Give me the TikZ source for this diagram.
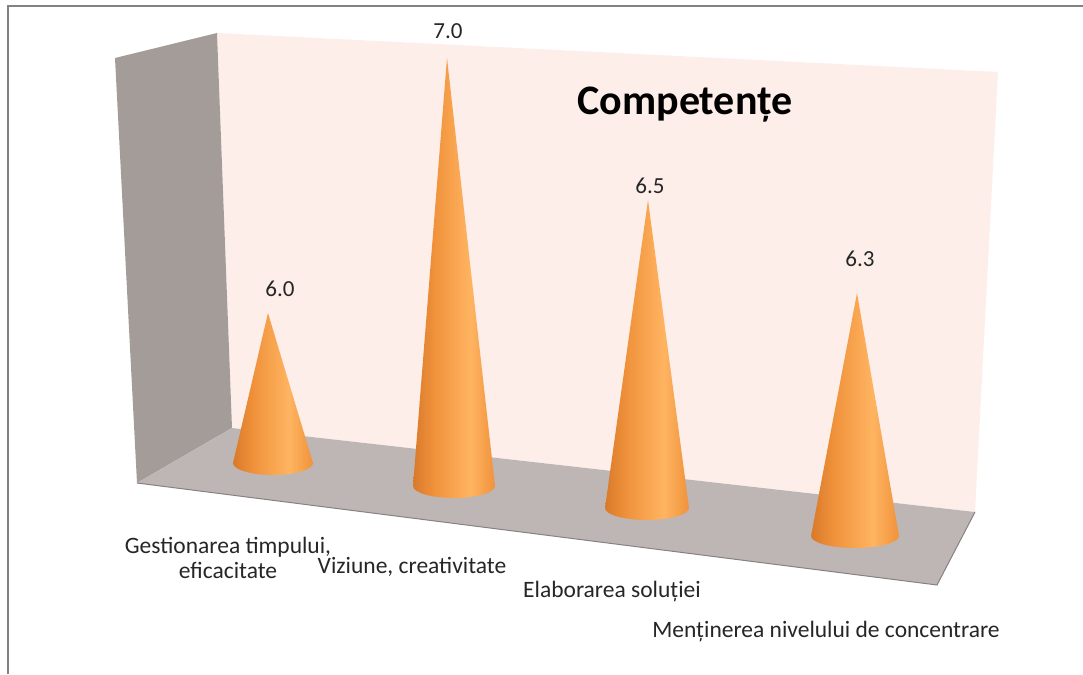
\documentclass[tikz,border=0pt]{standalone}
\usepackage{fontspec}
\setmainfont{Carlito}
\usetikzlibrary{calc}
\definecolor{backwall}{HTML}{FDEEE9}
\definecolor{sidewall}{HTML}{A39C99}
\definecolor{floorcol}{HTML}{BEB6B4}
\definecolor{edgecol}{HTML}{878180}
\definecolor{framecol}{HTML}{828282}
\definecolor{coneD}{HTML}{D97A2B}
\definecolor{coneM}{HTML}{F0923B}
\definecolor{coneL}{HTML}{FFB461}
\pgfdeclarehorizontalshading{conefill}{100bp}{color(0bp)=(coneD); color(25bp)=(coneD); color(38bp)=(coneM); color(60bp)=(coneL); color(75bp)=(coneM); color(100bp)=(coneM)}
\tikzset{valuelabel/.style = {font=\fontsize{23}{26}\selectfont, text=black!85}}
\tikzset{catlabel/.style = {font=\fontsize{23.5}{25}\selectfont, text=black!85, align=center}}
\tikzset{conebody/.style = {shading=conefill}}
% apex x, apex y, base x, base y, base radius
\newcommand{\conebar}[5]{%
  \shade[conebody] (#1,#2) -- (#3-#5,#4) arc[start angle=180, end angle=0, x radius=#5, y radius=12] -- cycle;}

\begin{document}
\begin{tikzpicture}[x=1pt,y=-1pt]
\useasboundingbox (0,0) rectangle (1083,674);
\draw[framecol, line width=2pt] (8,674) -- (8,6) -- (1083,6);

% walls and floor
\fill[backwall] (217,33) -- (998,72) -- (975,512) -- (232,428) -- cycle;
\fill[sidewall] (115,58) -- (217,33) -- (232,428) -- (137,483) -- cycle;
\fill[floorcol] (232,428) -- (975,512) -- (937,585) -- (137,483) -- cycle;
\draw[edgecol, line width=1pt] (137,483) -- (937,585) -- (975,512);

\conebar{268}{313}{273}{463}{40}
\conebar{447}{58}{454}{486}{41}
\conebar{648}{200}{647}{508}{42}
\conebar{857}{293}{855}{536}{44}

\node[valuelabel] (v1) at (280,289) {6.0};
\node[valuelabel] (v2) at (448,31) {7.0};
\node[valuelabel] (v3) at (650,186) {6.5};
\node[valuelabel] (v4) at (860,259) {6.3};

\node[font=\bfseries\fontsize{42}{46}\selectfont] (title) at (685,105) {Competențe};

\node[catlabel] (c1) at (228,558) {Gestionarea timpului,\\eficacitate};
\node[catlabel] (c2) at (412,567) {Viziune, creativitate};
\node[catlabel] (c3) at (612,591) {Elaborarea soluției};
\node[catlabel] (c4) at (826,631) {Menținerea nivelului de concentrare};
\end{tikzpicture}
\end{document}
